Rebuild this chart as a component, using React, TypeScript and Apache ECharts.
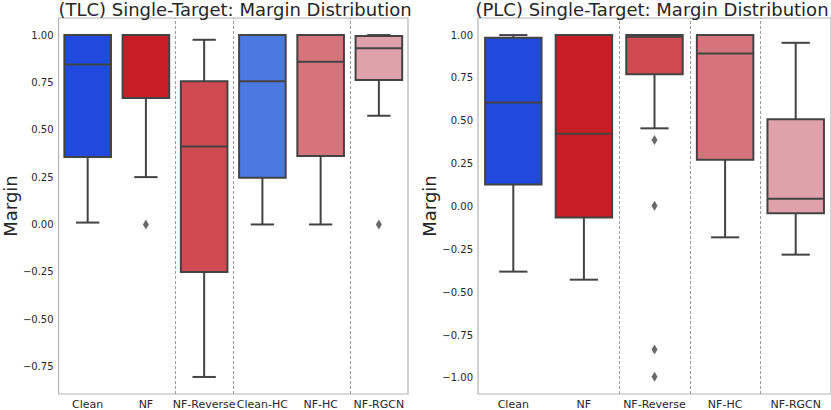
import React, { useEffect, useRef } from "react";
import * as echarts from "echarts";

// ---------- data ----------
const tlcTitle = "(TLC) Single-Target: Margin Distribution";
const plcTitle = "(PLC) Single-Target: Margin Distribution";

const tlcCategories = ["Clean", "NF", "NF-Reverse", "Clean-HC", "NF-HC", "NF-RGCN"];
// [min (whisker), q1, median, q3, max (whisker)]
const tlcBoxes = [
  [0.01, 0.356, 0.844, 1.0, 1.0],
  [0.25, 0.668, 1.0, 1.0, 1.0],
  [-0.805, -0.251, 0.412, 0.756, 0.975],
  [0.0, 0.247, 0.756, 1.0, 1.0],
  [0.0, 0.361, 0.859, 1.0, 1.0],
  [0.574, 0.763, 0.93, 0.995, 1.0],
];
// [category index, value]
const tlcOutliers = [
  [1, 0.0],
  [5, 0.0],
];
const tlcDividers = [1.5, 2.5, 4.5];
const tlcTicks = [-0.75, -0.5, -0.25, 0, 0.25, 0.5, 0.75, 1.0];

const plcCategories = ["Clean", "NF", "NF-Reverse", "NF-HC", "NF-RGCN"];
const plcBoxes = [
  [-0.38, 0.128, 0.606, 0.984, 1.0],
  [-0.427, -0.064, 0.425, 1.0, 1.0],
  [0.456, 0.771, 0.99, 1.0, 1.0],
  [-0.18, 0.272, 0.893, 1.0, 1.0],
  [-0.281, -0.039, 0.045, 0.509, 0.955],
];
const plcOutliers = [
  [2, 0.388],
  [2, 0.004],
  [2, -0.835],
  [2, -0.994],
];
const plcDividers = [1.5, 2.5, 3.5];
const plcTicks = [-1.0, -0.75, -0.5, -0.25, 0, 0.25, 0.5, 0.75, 1.0];

// ---------- styles ----------
const tlcColors = ["#204ade", "#c81d25", "#d04a52", "#4b78e1", "#d6747c", "#e0a2aa"];
const plcColors = ["#204ade", "#c81d25", "#d04a52", "#d6747c", "#e0a2aa"];
const edgeColor = "#434343";
const textColor = "#262626";
const spineColor = "#b3b3b3";
const FONT = "DejaVu Sans";

function makeRender(colors: string[]) {
  return (params: any, api: any) => {
    const i = api.value(0);
    const bw = api.size([1, 0])[0] * 0.8;
    const pMin = api.coord([i, api.value(1)]);
    const cx = pMin[0];
    const yMin = pMin[1];
    const yQ1 = api.coord([i, api.value(2)])[1];
    const yMed = api.coord([i, api.value(3)])[1];
    const yQ3 = api.coord([i, api.value(4)])[1];
    const yMax = api.coord([i, api.value(5)])[1];
    const st = { stroke: edgeColor, lineWidth: 2 };
    return {
      type: "group",
      children: [
        { type: "line", shape: { x1: cx, y1: yQ3, x2: cx, y2: yMax }, style: st },
        { type: "line", shape: { x1: cx, y1: yQ1, x2: cx, y2: yMin }, style: st },
        { type: "line", shape: { x1: cx - bw / 4, y1: yMax, x2: cx + bw / 4, y2: yMax }, style: st },
        { type: "line", shape: { x1: cx - bw / 4, y1: yMin, x2: cx + bw / 4, y2: yMin }, style: st },
        {
          type: "rect",
          shape: { x: cx - bw / 2, y: yQ3, width: bw, height: yQ1 - yQ3 },
          style: { fill: colors[params.dataIndex], stroke: edgeColor, lineWidth: 2 },
        },
        { type: "line", shape: { x1: cx - bw / 2, y1: yMed, x2: cx + bw / 2, y2: yMed }, style: st },
      ],
    };
  };
}

const fmt = (v: number) => v.toFixed(2).replace("-", "\u2212");

function yAxisCfg(gridIndex: number, min: number, max: number, ticks: number[]) {
  return {
    type: "value",
    gridIndex,
    min,
    max,
    name: "Margin",
    nameLocation: "middle",
    nameGap: 38,
    nameTextStyle: { fontSize: 18, color: textColor, fontFamily: FONT },
    axisLine: { show: false },
    axisTick: { show: false },
    splitLine: { show: false },
    axisLabel: {
      customValues: ticks,
      formatter: fmt,
      fontSize: 10,
      color: textColor,
      fontFamily: FONT,
      margin: 5,
    },
  };
}

function catAxisCfg(gridIndex: number, cats: string[]) {
  return {
    type: "category",
    gridIndex,
    data: cats,
    boundaryGap: true,
    axisLine: { show: false },
    axisTick: { show: false },
    splitLine: { show: false },
    axisLabel: { interval: 0, fontSize: 11, color: textColor, fontFamily: FONT, margin: 5 },
  };
}

function valXAxisCfg(gridIndex: number, n: number) {
  return { type: "value", gridIndex, min: -0.5, max: n - 0.5, show: false };
}

function outlierSeries(xi: number, yi: number, data: number[][], dividers: number[]) {
  return {
    type: "scatter",
    xAxisIndex: xi,
    yAxisIndex: yi,
    data,
    symbol: "diamond",
    symbolSize: [6, 10],
    itemStyle: { color: edgeColor },
    z: 5,
    markLine: {
      silent: true,
      symbol: ["none", "none"],
      label: { show: false },
      lineStyle: { color: "#9a9a9a", type: [3, 2], width: 1 },
      data: dividers.map((v) => ({ xAxis: v })),
    },
  };
}

function titleText(text: string, x: number) {
  return {
    type: "text",
    x,
    y: 9.5,
    style: {
      text,
      fontSize: 18,
      fontFamily: FONT,
      fill: textColor,
      align: "center",
      verticalAlign: "middle",
      textAlign: "center",
      textVerticalAlign: "middle",
    },
  };
}

export default function App() {
  const ref = useRef<HTMLDivElement>(null);
  useEffect(() => {
    if (!ref.current) return;
    const chart = echarts.init(ref.current, undefined, { renderer: "svg" });
    chart.setOption({
      animation: false,
      backgroundColor: "#ffffff",
      textStyle: { fontFamily: FONT },
      grid: [
        { left: 57, top: 18, width: 351, height: 376, show: true, borderColor: spineColor, borderWidth: 1.2, backgroundColor: "transparent" },
        { left: 478, top: 18, width: 353, height: 376, show: true, borderColor: spineColor, borderWidth: 1.2, backgroundColor: "transparent" },
      ],
      xAxis: [
        catAxisCfg(0, tlcCategories),
        catAxisCfg(1, plcCategories),
        valXAxisCfg(0, tlcCategories.length),
        valXAxisCfg(1, plcCategories.length),
      ],
      yAxis: [yAxisCfg(0, -0.895, 1.09, tlcTicks), yAxisCfg(1, -1.094, 1.0997, plcTicks)],
      graphic: [titleText(tlcTitle, 235), titleText(plcTitle, 652)],
      series: [
        {
          type: "custom",
          xAxisIndex: 0,
          yAxisIndex: 0,
          renderItem: makeRender(tlcColors),
          encode: { x: 0, y: [1, 2, 3, 4, 5] },
          data: tlcBoxes.map((b, i) => [i, ...b]),
          z: 3,
        },
        {
          type: "custom",
          xAxisIndex: 1,
          yAxisIndex: 1,
          renderItem: makeRender(plcColors),
          encode: { x: 0, y: [1, 2, 3, 4, 5] },
          data: plcBoxes.map((b, i) => [i, ...b]),
          z: 3,
        },
        outlierSeries(2, 0, tlcOutliers, tlcDividers),
        outlierSeries(3, 1, plcOutliers, plcDividers),
      ],
    });
    return () => chart.dispose();
  }, []);
  return (
    <div
      ref={ref}
      style={{ position: "fixed", left: 0, top: 0, width: 831, height: 410, background: "#fff" }}
    />
  );
}
